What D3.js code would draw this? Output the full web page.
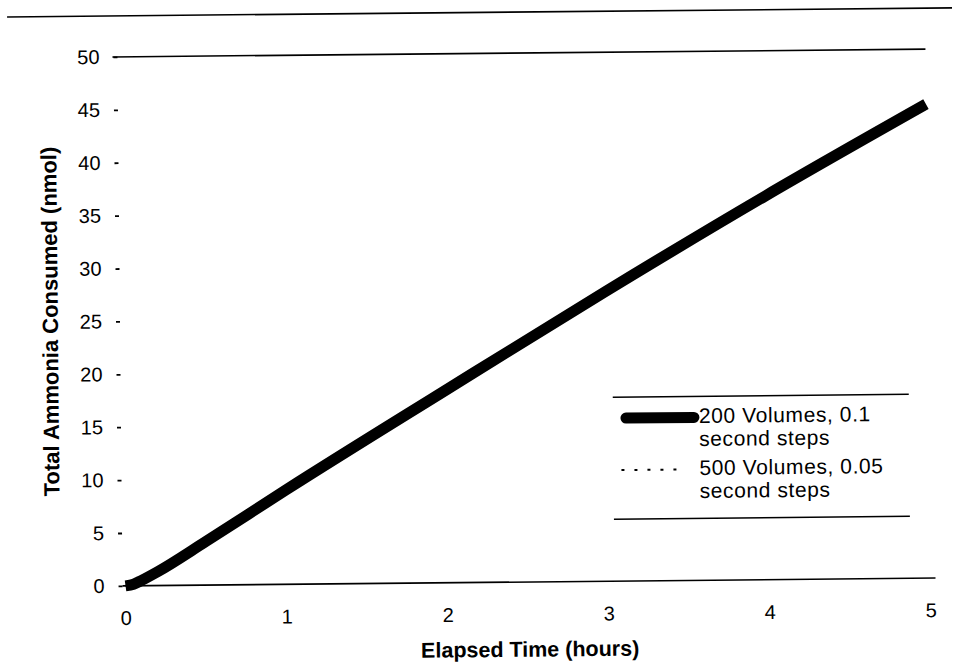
<!DOCTYPE html>
<html>
<head>
<meta charset="utf-8">
<script src="https://cdn.jsdelivr.net/npm/d3@7"></script>
<style>
  html, body { margin: 0; padding: 0; background: #fff; }
  svg { display: block; }
  text { font-family: "Liberation Sans", Arial, sans-serif; fill: #000; }
</style>
</head>
<body>
<svg id="chart" width="955" height="666"></svg>
<script>
// Elapsed time (hours) and cumulative ammonia consumed (nmol) for two discretisations
const timeHours   = [0, 0.05, 0.1, 0.2, 0.5, 1, 2, 3, 4, 5];
const ammonia200  = [0, 0.15, 0.5, 1.3, 4.1, 8.9, 18.2, 27.4, 36.3, 44.8];
const ammonia500  = [0, 0.15, 0.5, 1.3, 4.1, 8.9, 18.2, 27.4, 36.3, 44.8];
const xTicks = [0, 1, 2, 3, 4, 5];
const yTicks = [0, 5, 10, 15, 20, 25, 30, 35, 40, 45, 50];
const seriesNames = [
  ["200 Volumes, 0.1", "second steps"],
  ["500 Volumes, 0.05", "second steps"]
];
const xTitle = "Elapsed Time (hours)";
const yTitle = "Total Ammonia Consumed (nmol)";

const svg = d3.select("#chart");
svg.append("rect").attr("width", 955).attr("height", 666).attr("fill", "#fff");

// whole page is slightly tilted
const g = svg.append("g").attr("transform", "rotate(-0.55, 525, 320)");

const x = d3.scaleLinear().domain([0, 5]).range([123, 928]);
const y = d3.scaleLinear().domain([0, 50]).range([582, 53]);

// frame line at the top
g.append("line").attr("x1", 10).attr("x2", 955).attr("y1", 12).attr("y2", 12)
  .attr("stroke", "#000").attr("stroke-width", 1.6);

// top gridline at 50
g.append("line").attr("x1", 115).attr("x2", x(5)).attr("y1", y(50)).attr("y2", y(50))
  .attr("stroke", "#000").attr("stroke-width", 1.6);

// x baseline
g.append("line").attr("x1", x(0) - 3).attr("x2", x(5) + 5).attr("y1", y(0)).attr("y2", y(0))
  .attr("stroke", "#000").attr("stroke-width", 1.6);

// y axis: ticks and labels only
const yAxis = g.append("g").attr("transform", "translate(120,0)")
  .call(d3.axisLeft(y).tickValues(yTicks).tickSize(4).tickPadding(14));
yAxis.select(".domain").remove();
yAxis.selectAll(".tick line").attr("stroke", "#000").attr("stroke-width", 1.8);
yAxis.selectAll("text").style("font-size", "20px").style("font-family", "'Liberation Sans', Arial, sans-serif");

// x axis labels
const xAxis = g.append("g").attr("transform", `translate(0,${y(0)})`)
  .call(d3.axisBottom(x).tickValues(xTicks).tickSize(0).tickPadding(25).tickFormat(d3.format("d")));
xAxis.select(".domain").remove();
xAxis.selectAll("text").style("font-size", "20px").style("font-family", "'Liberation Sans', Arial, sans-serif");

// axis titles
g.append("text").attr("x", 527).attr("y", 651)
  .attr("text-anchor", "middle").attr("dominant-baseline", "middle")
  .style("font-size", "21.5px").style("font-weight", "bold").text(xTitle);
g.append("text").attr("transform", "translate(52,317) rotate(-90)")
  .attr("text-anchor", "middle").attr("dominant-baseline", "middle")
  .style("font-size", "22px").style("font-weight", "bold").text(yTitle);

// series lines
const line = d3.line().x(d => x(d[0])).y(d => y(d[1])).curve(d3.curveMonotoneX);
const pts200 = timeHours.map((t, i) => [t, ammonia200[i]]);
const pts500 = timeHours.map((t, i) => [t, ammonia500[i]]);

g.append("path").datum(pts200).attr("d", line)
  .attr("fill", "none").attr("stroke", "#000").attr("stroke-width", 11)
  .attr("stroke-linecap", "butt");
g.append("path").datum(pts500).attr("d", line)
  .attr("fill", "none").attr("stroke", "#000").attr("stroke-width", 2)
  .attr("stroke-dasharray", "3,9");

// legend
const lg = g.append("g");
lg.append("line").attr("x1", 612).attr("x2", 908).attr("y1", 398).attr("y2", 398)
  .attr("stroke", "#000").attr("stroke-width", 1.5);
lg.append("line").attr("x1", 612).attr("x2", 908).attr("y1", 520).attr("y2", 520)
  .attr("stroke", "#000").attr("stroke-width", 1.5);

const rows = [
  { y: 419, w: 11, dash: null, cap: "round" },
  { y: 471, w: 2, dash: "3,10", cap: "butt" }
];
rows.forEach((r, i) => {
  lg.append("line").attr("x1", r.cap === "round" ? 625 : 620).attr("x2", r.cap === "round" ? 693 : 683)
    .attr("y1", r.y).attr("y2", r.y)
    .attr("stroke", "#000").attr("stroke-width", r.w)
    .attr("stroke-linecap", r.cap)
    .attr("stroke-dasharray", r.dash);
  seriesNames[i].forEach((s, j) => {
    lg.append("text").attr("x", 698).attr("y", r.y + j * 23)
      .attr("dominant-baseline", "middle")
      .style("font-size", "21px").style("letter-spacing", "0.6px").text(s);
  });
});
</script>
</body>
</html>
